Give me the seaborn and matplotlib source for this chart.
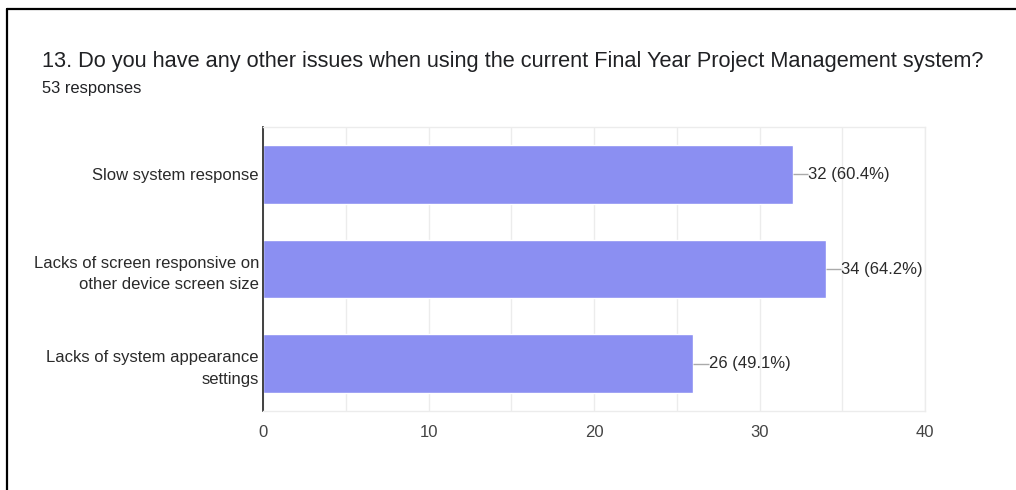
import pandas as pd
import matplotlib
matplotlib.use("Agg")
import matplotlib.pyplot as plt
import seaborn as sns
from matplotlib.lines import Line2D

# data
categories = [
    "Slow system response",
    "Lacks of screen responsive on\nother device screen size",
    "Lacks of system appearance\nsettings",
]
counts = [32, 34, 26]
percents = [60.4, 64.2, 49.1]
x_ticks = [0, 10, 20, 30, 40]
total_responses = 53

df = pd.DataFrame({"Issue": categories, "Count": counts})

sns.set_style("white")
plt.rcParams["font.family"] = ["Liberation Sans", "DejaVu Sans"]

fig = plt.figure(figsize=(10.16, 4.9), dpi=100)
ax = fig.add_axes([0.2589, 0.1612, 0.6516, 0.5796])

sns.barplot(data=df, x="Count", y="Issue", orient="h", color="#8b8ff2",
            saturation=1, width=0.62, ax=ax)

ax.set_xlim(0, 40)
ax.set_ylim(2.5, -0.5)
ax.set_xticks(x_ticks)
ax.set_xticks([5, 15, 25, 35], minor=True)
ax.grid(True, axis="x", which="both", color="#ececec", linewidth=1)
ax.set_axisbelow(True)
ax.set_xlabel("")
ax.set_ylabel("")
ax.tick_params(axis="x", which="both", length=0, pad=10, labelsize=12, labelcolor="#444444")
ax.tick_params(axis="y", length=0, pad=3, labelsize=12, labelcolor="#2a2a2a")
for lbl in ax.get_yticklabels():
    lbl.set_horizontalalignment("right")
    lbl.set_multialignment("right")
    lbl.set_linespacing(1.55)

for side in ["top", "right", "bottom"]:
    ax.spines[side].set_color("#ececec")
    ax.spines[side].set_linewidth(1)
ax.spines["left"].set_color("#333333")
ax.spines["left"].set_linewidth(1.3)

# value labels with short connector lines
for i, (c, p) in enumerate(zip(counts, percents)):
    ax.hlines(i, c, c + 0.95, color="#aaaaaa", linewidth=1)
    ax.text(c + 0.95, i, f"{c} ({p}%)", va="center", ha="left",
            fontsize=12, color="#2a2a2a")

fig.text(42 / 1016, 1 - 61 / 490, "13. Do you have any other issues when using the current Final Year Project Management system?",
         fontsize=15.7, color="#202124", va="center", ha="left")
fig.text(42 / 1016, 1 - 89 / 490, f"{total_responses} responses",
         fontsize=11.9, color="#202124", va="center", ha="left")

# screenshot frame
fig.add_artist(Line2D([7 / 1016, 1], [1 - 9 / 490, 1 - 9 / 490], color="black", linewidth=1.6))
fig.add_artist(Line2D([7 / 1016, 7 / 1016], [0, 1 - 9 / 490], color="black", linewidth=1.6))

fig.savefig("out.png", dpi=100)
